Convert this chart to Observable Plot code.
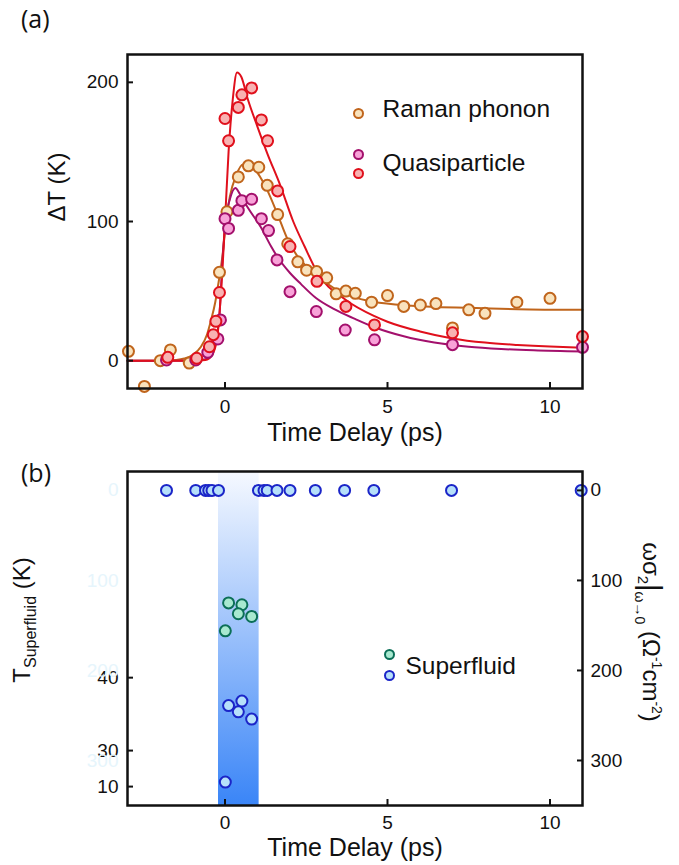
<!DOCTYPE html>
<html><head><meta charset="utf-8">
<script src="https://cdn.jsdelivr.net/npm/d3@7"></script>
<script src="https://cdn.jsdelivr.net/npm/@observablehq/plot@0.6"></script>
<style>
body{margin:0;background:#fff;}
#wrap{position:relative;width:679px;height:865px;overflow:hidden;}
.panel{position:absolute;left:0;}
.tag{position:absolute;font-family:"Open Sans",sans-serif;font-size:25px;line-height:1;color:#111;}
</style></head><body>
<div id="wrap">
<div id="pa" class="panel" style="top:0"></div>
<div id="pb" class="panel" style="top:450px"></div>
<div class="tag" style="left:21px;top:6px">(a)</div>
<div class="tag" style="left:21px;top:460px">(b)</div>
</div>
<script>
// ---------- data ----------
const xTicks = [0, 5, 10];
const yTicksA = [0, 100, 200];
const rightTicks = [0, 100, 200, 300];
const ghostTicks = [0, 100, 200, 300];
const leftTickAt = [208, 289, 329];
const leftTickLabels = ["40", "30", "10"];

const ramanX = [-2.97,-2.48,-1.99,-1.68,-1.1,-0.17,0.06,0.41,0.72,1.04,1.3,1.62,1.93,2.24,2.51,2.82,3.13,3.42,3.72,4.01,4.51,5.0,5.5,6.01,6.49,7.0,7.5,8.0,8.98,10.0];
const ramanY = [6.7,-18.5,0,7.7,-1.7,63.5,107,132,140,139,126,105,84,71,65,64,59.5,48,50,48.4,42,46.8,39,40,41,23.5,36.5,34,42,44.8];

const pinkX = [-1.8,-0.9,-0.53,-0.22,-0.14,0.0,0.11,0.41,0.52,0.82,1.12,1.34,1.6,2.0,2.81,3.7,4.6,7.0,11.0];
const pinkY = [0.5,0.5,6,15.6,29.3,102,95,108,115,116,102,93.5,72.4,49.6,35.3,22,15,11.5,9.6];

const redX = [-1.76,-0.87,-0.48,-0.36,-0.28,-0.17,0.0,0.11,0.41,0.52,0.82,1.12,1.31,1.62,2.0,2.83,3.72,4.6,7.0,11.0];
const redY = [2.4,1.7,10,18.7,28.3,49,174,158,182,191,196,173,158,122,82,57,39,25.7,20,17.3];

// fitted curves
const ramanFitX = [-3,-2,-1.5,-1.25,-1.0,-0.74,-0.55,-0.43,-0.3,-0.22,-0.07,0.03,0.15,0.34,0.55,0.75,1.0,1.31,1.62,1.93,2.2,2.54,3.0,3.36,4.0,4.4,5.4,6.5,7.5,9.0,11.0];
const ramanFitY = [0,0,0.5,1.5,4,10,19,29,42,53,77,100,118,133,141,141,135,122,105,87,76,67,58,52,45.5,43,40,38.5,38,37,36.5];

const pinkFitX = [-3,-1,-0.6,-0.4,-0.3,-0.17,-0.07,0.03,0.15,0.32,0.45,0.7,1.1,1.42,1.6,2.0,2.34,2.8,3.36,4.0,4.6,5.5,6.44,7.5,8.5,9.5,11.0];
const pinkFitY = [0,0,1,6,12,33,75,103,116,124,120,110,96,82,75,63,55,45,37,30,24,17.5,13,10,8.4,7.4,6.5];

const redFitX = [-3,-1.0,-0.6,-0.4,-0.25,-0.12,0.0,0.11,0.24,0.37,0.5,0.7,1.0,1.3,1.7,2.1,2.45,2.85,3.7,4.6,5.0,6.0,7.0,8.0,9.0,10.0,11.0];
const redFitY = [0,0,0.5,4,15,50,100,150,188,207,204,188,168,149,126,100,82,63,44,32,28,21,16,13,11.3,10.1,9.3];

const sfTopX = [-1.8,-0.9,-0.6,-0.5,-0.4,-0.2,1.03,1.2,1.3,1.6,2.0,2.78,3.68,4.58,6.97,10.96];
const sfTopY = sfTopX.map(() => 0);
const sfBlueX = [0.11,0.52,0.41,0.82,0.01];
const sfBlueY = [239,234,246,254,324];
const sfGreenX = [0.11,0.52,0.41,0.82,0.01];
const sfGreenY = [125,127,137,140,156];
const bandRange = [-0.2, 1.05];

// ---------- build ----------
const pts = (xs, ys) => xs.map((x, i) => ({x, y: ys[i]}));
const raman = pts(ramanX, ramanY), pink = pts(pinkX, pinkY), red = pts(redX, redY);
const ramanFit = pts(ramanFitX, ramanFitY), pinkFit = pts(pinkFitX, pinkFitY), redFit = pts(redFitX, redFitY);
const sfTop = pts(sfTopX, sfTopY), sfBlue = pts(sfBlueX, sfBlueY), sfGreen = pts(sfGreenX, sfGreenY);

const C = {
  raman: {fill: "#f9e3bd", stroke: "#c0651c"},
  pink: {fill: "#f8a2d8", stroke: "#a3106c"},
  red: {fill: "#f8b2b2", stroke: "#e0101c"},
  blue: {fill: "#b6e0fa", stroke: "#1b25c8"},
  green: {fill: "#a8e9d0", stroke: "#0b6f57"}
};
const font = '"Liberation Sans", Arial, sans-serif';
const ink = "#111";

const A = Plot.plot({
  width: 679, height: 450, marginLeft: 127, marginRight: 97, marginTop: 54, marginBottom: 62,
  style: {fontFamily: font, fontSize: "19px", color: ink, background: "transparent", overflow: "visible"},
  x: {domain: [-3, 11]},
  y: {domain: [-20, 220]},
  marks: [
    Plot.line(ramanFit, {x: "x", y: "y", stroke: C.raman.stroke, strokeWidth: 2, curve: "monotone-x"}),
    Plot.line(pinkFit, {x: "x", y: "y", stroke: C.pink.stroke, strokeWidth: 2, curve: "monotone-x"}),
    Plot.line(redFit, {x: "x", y: "y", stroke: C.red.stroke, strokeWidth: 2, curve: "monotone-x"}),
    Plot.dot(raman, {x: "x", y: "y", r: 5.5, fill: C.raman.fill, stroke: C.raman.stroke, strokeWidth: 2}),
    Plot.dot(pink, {x: "x", y: "y", r: 5.5, fill: C.pink.fill, stroke: C.pink.stroke, strokeWidth: 2}),
    Plot.dot(red, {x: "x", y: "y", r: 5.5, fill: C.red.fill, stroke: C.red.stroke, strokeWidth: 2}),
    Plot.frame({stroke: ink, strokeWidth: 2.5}),
    Plot.axisX({ticks: xTicks, tickSize: -6, tickPadding: 17, strokeWidth: 2, label: null}),
    Plot.axisY({ticks: yTicksA, tickSize: -6, tickPadding: 15, strokeWidth: 2, label: null}),
    Plot.text(["ΔT (K)"], {frameAnchor: "left", dx: -70, rotate: -90, fontSize: 24, fill: ink, lineAnchor: "middle"}),
    Plot.text(["Time Delay (ps)"], {frameAnchor: "bottom", dy: 44, fontSize: 25, fill: ink, lineAnchor: "middle"}),
    Plot.dot([0], {frameAnchor: "top-left", dx: 231, dy: 59, r: 4.5, fill: C.raman.fill, stroke: C.raman.stroke, strokeWidth: 2}),
    Plot.dot([0], {frameAnchor: "top-left", dx: 231, dy: 100, r: 4.5, fill: C.pink.fill, stroke: C.pink.stroke, strokeWidth: 2}),
    Plot.dot([0], {frameAnchor: "top-left", dx: 231, dy: 119, r: 4.5, fill: C.red.fill, stroke: C.red.stroke, strokeWidth: 2}),
    Plot.text(["Raman phonon"], {frameAnchor: "top-left", dx: 255, dy: 55, textAnchor: "start", lineAnchor: "middle", fontSize: 24.5, fill: ink}),
    Plot.text(["Quasiparticle"], {frameAnchor: "top-left", dx: 255, dy: 109, textAnchor: "start", lineAnchor: "middle", fontSize: 24.5, fill: ink})
  ]
});
document.getElementById("pa").appendChild(A);

const B = Plot.plot({
  width: 679, height: 415, marginLeft: 127, marginRight: 97, marginTop: 21, marginBottom: 60,
  style: {fontFamily: font, fontSize: "19px", color: ink, background: "transparent", overflow: "visible"},
  x: {domain: [-3, 11]},
  y: {domain: [-21, 350], reverse: true},
  marks: [
    Plot.rect([bandRange], {x1: d => d[0], x2: d => d[1], fill: "url(#sfGrad)"}),
    Plot.dot(sfTop, {x: "x", y: "y", r: 5.5, fill: C.blue.fill, stroke: C.blue.stroke, strokeWidth: 2}),
    Plot.dot(sfGreen, {x: "x", y: "y", r: 5.5, fill: C.green.fill, stroke: C.green.stroke, strokeWidth: 2}),
    Plot.dot(sfBlue, {x: "x", y: "y", r: 5.5, fill: C.blue.fill, stroke: C.blue.stroke, strokeWidth: 2}),
    Plot.frame({stroke: ink, strokeWidth: 2.5}),
    Plot.axisX({ticks: xTicks, tickSize: -6, tickPadding: 16, strokeWidth: 2, label: null}),
    Plot.axisY({anchor: "right", ticks: rightTicks, tickSize: -6, tickPadding: 14, strokeWidth: 2, label: null}),
    Plot.axisY({anchor: "left", ticks: leftTickAt, tickFormat: d => leftTickLabels[leftTickAt.indexOf(d)], tickSize: -6, tickPadding: 15, strokeWidth: 2, label: null}),
    Plot.text(ghostTicks, {y: d => d, text: d => String(d), frameAnchor: "left", dx: -9, textAnchor: "end", fill: "#e6f5fc", fontSize: 19}),
    Plot.text(["Time Delay (ps)"], {frameAnchor: "bottom", dy: 42, fontSize: 25, fill: ink, lineAnchor: "middle"}),
    Plot.dot([0], {frameAnchor: "top-left", dx: 262, dy: 183, r: 4.5, fill: C.green.fill, stroke: C.green.stroke, strokeWidth: 2}),
    Plot.dot([0], {frameAnchor: "top-left", dx: 262, dy: 204, r: 4.5, fill: C.blue.fill, stroke: C.blue.stroke, strokeWidth: 2}),
    Plot.text(["Superfluid"], {frameAnchor: "top-left", dx: 278, dy: 195, textAnchor: "start", lineAnchor: "middle", fontSize: 24.5, fill: ink})
  ]
});
document.getElementById("pb").appendChild(B);

const svgB = d3.select(B);
const grad = svgB.insert("defs", ":first-child").append("linearGradient")
  .attr("id", "sfGrad").attr("x1", 0).attr("y1", 0).attr("x2", 0).attr("y2", 1);
grad.append("stop").attr("offset", "0%").attr("stop-color", "#f6f9ff");
grad.append("stop").attr("offset", "100%").attr("stop-color", "#3a85f7");

// left axis title with subscript
const ll = svgB.append("text").attr("transform", "translate(30,170) rotate(-90)")
  .attr("text-anchor", "middle").attr("font-size", 24).attr("fill", ink).attr("font-family", font);
ll.append("tspan").text("T");
ll.append("tspan").attr("font-size", 16).attr("dy", 6).text("Superfluid");
ll.append("tspan").attr("dy", -6).text(" (K)");

// right axis title
const rl = svgB.append("text").attr("transform", "translate(643,182) rotate(90)")
  .attr("text-anchor", "middle").attr("font-size", 24).attr("fill", ink).attr("font-family", font);
rl.append("tspan").text("ωσ");
rl.append("tspan").attr("font-size", 15).attr("dy", 5).text("2");
rl.append("tspan").attr("font-size", 29).attr("dy", -3).text("|");
rl.append("tspan").attr("font-size", 14).attr("dy", 6).text("ω→0");
rl.append("tspan").attr("dy", -8).text(" (Ω");
rl.append("tspan").attr("font-size", 14).attr("dy", -9).text("-1");
rl.append("tspan").attr("dy", 9).text("cm");
rl.append("tspan").attr("font-size", 14).attr("dy", -9).text("-2");
rl.append("tspan").attr("dy", 9).text(")");
</script>
</body></html>
